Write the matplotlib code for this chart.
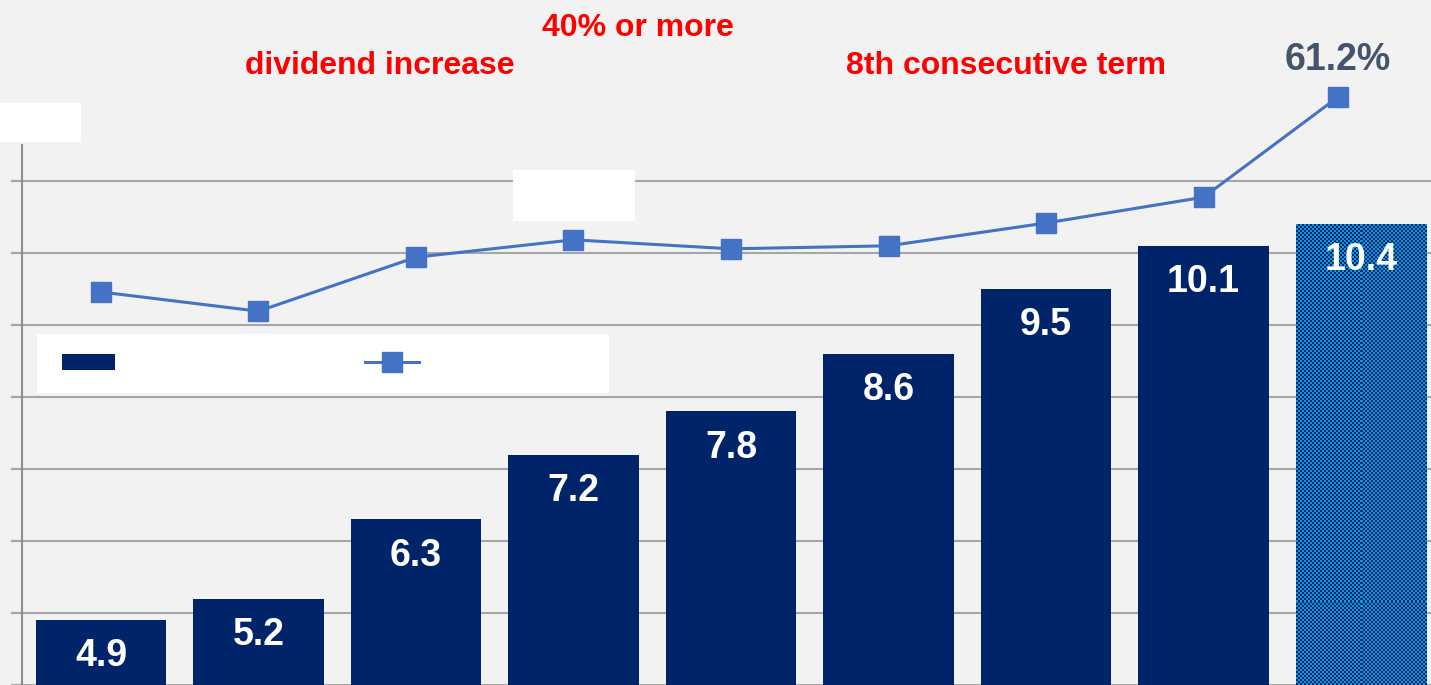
import numpy as np
import matplotlib
matplotlib.use("Agg")
import matplotlib.pyplot as plt
from matplotlib.patches import Rectangle
from matplotlib.lines import Line2D

plt.rcParams['font.family'] = ['Liberation Sans', 'DejaVu Sans']
plt.rcParams['font.weight'] = 'bold'

# dividend per share (bars) and payout ratio (line)
periods = ['FY1', 'FY2', 'FY3', 'FY4', 'FY5', 'FY6', 'FY7', 'FY8', 'FY9']
dividend = [4.9, 5.2, 6.3, 7.2, 7.8, 8.6, 9.5, 10.1, 10.4]
payout = [28.7, 25.5, 34.5, 37.4, 35.9, 36.4, 40.2, 44.5, 61.2]

NAVY = '#002469'
LIGHT = '#009CE2'
LINE = '#4472C4'
BG = '#F2F2F2'

W, H = 1431, 685
fig = plt.figure(figsize=(W / 100, H / 100), dpi=100, facecolor=BG)
ax = fig.add_axes([11 / W, 0, 1 - 11 / W, 1])
ax.set_facecolor(BG)

x = np.arange(len(periods))
bars = ax.bar(x, dividend, width=0.826, color=NAVY, zorder=2)

# forecast bar gets a checker fill
last = bars[-1]
last.set_facecolor(LIGHT)
cells = np.indices((374, 65)).sum(axis=0) % 2
check = matplotlib.colors.ListedColormap([LIGHT, NAVY])
img = ax.imshow(cells, cmap=check, interpolation='nearest', aspect='auto',
                extent=(last.get_x(), last.get_x() + last.get_width(), 0, last.get_height()),
                zorder=2.1)
img.set_clip_path(last)

for b, v in zip(bars, dividend):
    ax.annotate(f'{v}', (b.get_x() + b.get_width() / 2, v), xytext=(0, -26),
                textcoords='offset points', ha='center', va='center',
                color='white', fontsize=27, fontweight='bold', zorder=4)

ax.set_xlim(-0.571, 8.444)
ax.set_ylim(4, 4 + H / 72)
ax.set_yticks(range(4, 12))
ax.yaxis.grid(True, color='#A6A6A6', lw=1.5, zorder=0)
ax.set_axisbelow(True)
ax.tick_params(axis='y', length=8, width=1.5, color='#A6A6A6', labelleft=False)
ax.tick_params(axis='x', length=0, labelbottom=False)
for s in ['top', 'right', 'bottom']:
    ax.spines[s].set_visible(False)
ax.spines['left'].set_position(('data', -0.5))
ax.spines['left'].set_bounds(4, 11.5)
ax.spines['left'].set_color('#8C8C8C')
ax.spines['left'].set_linewidth(1.5)

# payout ratio on a hidden secondary scale
ax2 = ax.twinx()
line_x = x.astype(float)
line_x[-1] -= 0.146
ax2.plot(line_x, payout, color=LINE, lw=2.2, marker='s', ms=15, zorder=5)
ax2.set_ylim(-36.8, 77.37)
ax2.axis('off')
ax2.annotate(f'{payout[-1]}%', (line_x[-1], payout[-1]), xytext=(0, 27),
             textcoords='offset points', ha='center', va='center',
             color='#44546A', fontsize=27, fontweight='bold')


def white_box(x0, y0, x1, y1):
    fig.add_artist(Rectangle((x0 / W, 1 - y1 / H), (x1 - x0) / W, (y1 - y0) / H,
                             transform=fig.transFigure, facecolor='white',
                             edgecolor='none', zorder=6))


white_box(0, 103, 81, 142)
white_box(513, 170, 635, 221)
white_box(37, 334, 609, 393)

handles = [Rectangle((0, 0), 1, 1, facecolor=NAVY),
           Line2D([], [], color=LINE, lw=2.2, marker='s', ms=14)]
leg = fig.legend(handles, ['', ''], loc='center left', ncol=2, frameon=False,
                 bbox_to_anchor=(62 / W, 1 - 364 / H), borderpad=0, borderaxespad=0,
                 fontsize=16, handlelength=2.4, handletextpad=0.8, columnspacing=10.45)
leg.set_zorder(7)

fig.text(638 / W, 1 - 28 / H, '40% or more', color='red', fontsize=23,
         fontweight='bold', ha='center', va='center')
fig.text(380 / W, 1 - 66 / H, 'dividend increase', color='red', fontsize=23,
         fontweight='bold', ha='center', va='center')
fig.text(1006 / W, 1 - 66 / H, '8th consecutive term', color='red', fontsize=23,
         fontweight='bold', ha='center', va='center')

fig.savefig('out.png', dpi=100, facecolor=BG)
